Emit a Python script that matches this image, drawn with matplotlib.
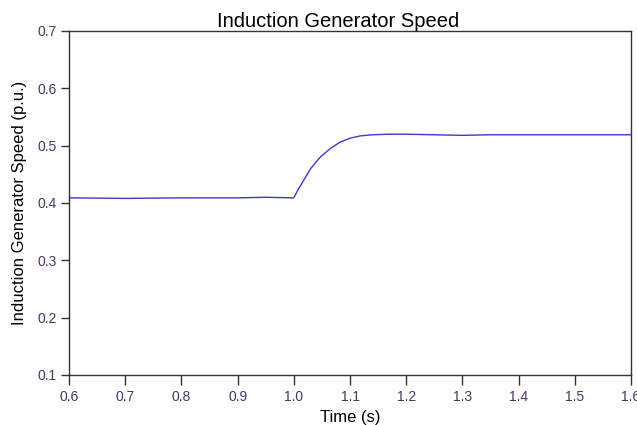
import numpy as np
import matplotlib
matplotlib.use('Agg')
import matplotlib.pyplot as plt

plt.rcParams['font.family'] = ['Liberation Sans', 'DejaVu Sans']

# speed trace (time in s, speed in p.u.)
time = [0.6, 0.7, 0.8, 0.9, 0.95, 1.0, 1.008, 1.016, 1.03, 1.047, 1.065, 1.082,
        1.1, 1.118, 1.14, 1.17, 1.2, 1.25, 1.3, 1.35, 1.4, 1.45, 1.5, 1.55, 1.6]
speed = [0.409, 0.408, 0.409, 0.409, 0.410, 0.409, 0.424, 0.437, 0.460, 0.480, 0.495, 0.506,
         0.513, 0.517, 0.519, 0.520, 0.520, 0.519, 0.518, 0.519, 0.519, 0.519, 0.519, 0.519, 0.519]

xticks = [0.6, 0.7, 0.8, 0.9, 1.0, 1.1, 1.2, 1.3, 1.4, 1.5, 1.6]
yticks = [0.1, 0.2, 0.3, 0.4, 0.5, 0.6, 0.7]

fig = plt.figure(figsize=(6.37, 4.25), dpi=100)
ax = fig.add_axes([69/637, 1 - 375/425, (631 - 69)/637, (375 - 31)/425])

ax.plot(time, speed, color='#3a3ad0', lw=1.0)

ax.set_xlim(0.6, 1.6)
ax.set_ylim(0.1, 0.7)
ax.set_xticks(xticks)
ax.set_xticklabels(['%.1f' % t for t in xticks])
ax.set_yticks(yticks)
ax.set_yticklabels(['%.1f' % t for t in yticks])
ax.tick_params(axis='x', direction='out', length=7, width=1, colors='#333333',
               labelsize=10, labelcolor='#4a3566', pad=4)
ax.tick_params(axis='y', direction='out', length=6, width=1, colors='#333333',
               labelsize=10, labelcolor='#4a3566', pad=3)

for s in ax.spines.values():
    s.set_color('#333333')
    s.set_linewidth(1)

ax.set_title('Induction Generator Speed', fontsize=14.5, pad=3, x=0.478)
ax.set_xlabel('Time (s)', fontsize=12, labelpad=4)
ax.set_ylabel('Induction Generator Speed (p.u.)', fontsize=12, labelpad=7)

fig.savefig('out.png', dpi=100)
